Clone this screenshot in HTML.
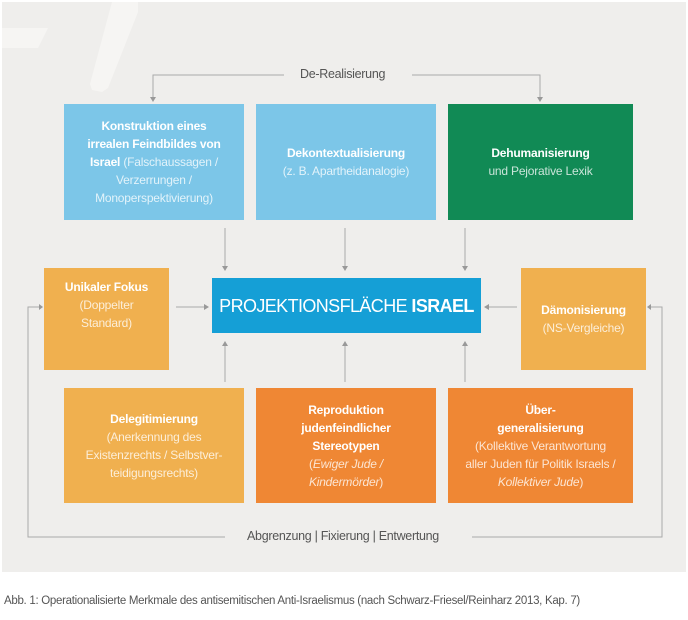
<!DOCTYPE html>
<html><head><meta charset="utf-8"><style>
body{margin:0;width:688px;height:620px;background:#fff;font-family:"Liberation Sans",sans-serif;position:relative;overflow:hidden}
.panel{position:absolute;left:2px;top:2px;width:684px;height:570px;background:#efeeec}
.b{position:absolute;display:flex;flex-direction:column;justify-content:center;align-items:center;text-align:center;color:#fff;font-size:12px;line-height:18px;letter-spacing:-0.2px}
.b b{font-weight:bold}
.s{color:rgba(255,255,255,0.78)}
.lb{background:#7cc6e8}.gr{background:#118a55}.lo{background:#f0b04f}.do{background:#ef8734}
.lbl{position:absolute;font-size:12.5px;color:#555;letter-spacing:-0.3px}
.cap{position:absolute;left:4px;top:595px;font-size:11.5px;color:#555;letter-spacing:-0.3px}
</style></head><body>
<div class="panel"></div>
<svg style="position:absolute;left:0;top:0" width="688" height="620">
<polygon points="2,28 48,28 38,48 2,48" fill="#f6f5f3"/>
<polygon points="112,2 138,2 138,12 108,88 102,92 92,90 90,84" fill="#f6f5f3"/>
<g stroke="#aaa" stroke-width="1" fill="none">
<path d="M284,75H153V100"/><path d="M412,75H540V100"/>
<path d="M225,228V268"/><path d="M345,228V268"/><path d="M465,228V268"/>
<path d="M225,382V344"/><path d="M345,382V344"/><path d="M465,382V344"/>
<path d="M176,307H204"/><path d="M517,307H489"/>
<path d="M225,537H28V307H40"/><path d="M472,537H662V307H650"/>
</g>
<g fill="#999">
<path d="M150,97h6l-3,5z"/><path d="M537,97h6l-3,5z"/>
<path d="M222,266h6l-3,5z"/><path d="M342,266h6l-3,5z"/><path d="M462,266h6l-3,5z"/>
<path d="M222,346h6l-3,-5z"/><path d="M342,346h6l-3,-5z"/><path d="M462,346h6l-3,-5z"/>
<path d="M204,304v6l5,-3z"/><path d="M489,304v6l-5,-3z"/>
<path d="M39,304v6l4,-3z"/><path d="M651,304v6l-4,-3z"/>
</g>
</svg>
<div class="lbl" style="left:300px;top:67px">De-Realisierung</div>
<div class="lbl" style="left:247px;top:529px">Abgrenzung | Fixierung | Entwertung</div>
<div class="b lb" style="left:64px;top:104px;width:180px;height:116px"><div><b>Konstruktion eines<br>irrealen Feindbildes von<br>Israel</b> <span class="s">(Falschaussagen /<br>Verzerrungen /<br>Monoperspektivierung)</span></div></div>
<div class="b lb" style="left:256px;top:104px;width:180px;height:116px"><div><b>Dekontextualisierung</b><br><span class="s">(z. B. Apartheidanalogie)</span></div></div>
<div class="b gr" style="left:448px;top:104px;width:185px;height:116px"><div><b>Dehumanisierung</b><br><span class="s">und Pejorative Lexik</span></div></div>
<div class="b" style="left:212px;top:278px;width:269px;height:55px;background:#159fd6;font-size:18px;letter-spacing:-0.6px;white-space:nowrap"><div>PROJEKTIONSFLÄCHE <b>ISRAEL</b></div></div>
<div class="b lo" style="left:44px;top:268px;width:125px;height:102px;justify-content:flex-start"><div style="margin-top:10px"><b>Unikaler Fokus</b><br><span class="s">(Doppelter<br>Standard)</span></div></div>
<div class="b lo" style="left:521px;top:268px;width:125px;height:102px"><div><b>Dämonisierung</b><br><span class="s">(NS-Vergleiche)</span></div></div>
<div class="b lo" style="left:64px;top:388px;width:180px;height:115px"><div><b>Delegitimierung</b><br><span class="s">(Anerkennung des<br>Existenzrechts / Selbstver-<br>teidigungsrechts)</span></div></div>
<div class="b do" style="left:256px;top:388px;width:180px;height:115px"><div><b>Reproduktion<br>judenfeindlicher<br>Stereotypen</b><br><span class="s">(<i>Ewiger Jude /<br>Kindermörder</i>)</span></div></div>
<div class="b do" style="left:448px;top:388px;width:185px;height:115px"><div><b>Über-<br>generalisierung</b><br><span class="s">(Kollektive Verantwortung<br>aller Juden für Politik Israels /<br><i>Kollektiver Jude</i>)</span></div></div>
<div class="cap">Abb. 1: Operationalisierte Merkmale des antisemitischen Anti-Israelismus (nach Schwarz-Friesel/Reinharz 2013, Kap. 7)</div>
</body></html>
